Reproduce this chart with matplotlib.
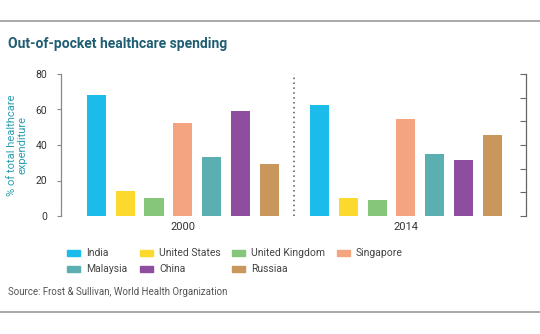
import matplotlib
matplotlib.use("Agg")
import matplotlib.pyplot as plt
from matplotlib.patches import Rectangle
from matplotlib.lines import Line2D
import numpy as np

plt.rcParams['font.family'] = ['Roboto', 'DejaVu Sans']

countries = ["India", "United States", "United Kingdom", "Singapore",
             "Malaysia", "China", "Russiaa"]
colors = ["#1bbbea", "#fcd92c", "#86c67b", "#f4a47f",
          "#5bafb1", "#8e4d9f", "#c9965b"]
years = ["2000", "2014"]
share_2000 = [68, 14, 10, 52.5, 33, 59, 29.5]
share_2014 = [62.5, 10.3, 8.8, 54.5, 35, 31.5, 45.5]

W, H = 540, 334
fig = plt.figure(figsize=(W / 100, H / 100), dpi=100)
ax = fig.add_axes([61 / W, 118 / H, 465 / W, 142 / H])

n = len(countries)
gap = 7.75  # distance between the two year groups, in bar slots
x0 = np.arange(n)
x1 = x0 + gap
ax.bar(x0, share_2000, width=0.66, color=colors)
ax.bar(x1, share_2014, width=0.66, color=colors)

ax.axvline((x0[-1] + x1[0]) / 2, color="#555555", linestyle=(0, (1, 2.2)),
           linewidth=1.1)

ax.set_xlim(-1.23, x1[-1] + 1.17)
ax.set_ylim(0, 80)
ax.set_yticks([0, 20, 40, 60, 80])
ax.set_xticks([x0.mean(), x1.mean()])
ax.set_xticklabels(years)
ax.tick_params(axis="x", length=0, pad=4, labelsize=8, colors="#333333")
ax.tick_params(axis="y", length=3, width=0.8, color="#888888",
               labelsize=7.5, labelcolor="#333333", pad=7)
for s in ["top", "right", "bottom"]:
    ax.spines[s].set_visible(False)
ax.spines["left"].set_color("#888888")
ax.spines["left"].set_linewidth(0.9)

ax.set_ylabel("% of total healthcare\nexpenditure", color="#2a9db3",
              fontsize=8, linespacing=1.0, labelpad=6)

# unlabelled scale on the right
ax2 = ax.twinx()
ax2.set_ylim(0, 80)
ax2.set_yticks(np.linspace(0, 80, 7))
ax2.set_yticklabels([])
ax2.tick_params(axis="y", direction="in", length=4, width=0.8, color="#666666")
for s in ["top", "left", "bottom"]:
    ax2.spines[s].set_visible(False)
ax2.spines["right"].set_color("#666666")
ax2.spines["right"].set_linewidth(0.9)

# legend: two rows, four columns
col_x = [67, 140, 232, 337]
row_y = [253, 269]
for i, (name, c) in enumerate(zip(countries, colors)):
    px, py = col_x[i % 4], row_y[i // 4]
    fig.add_artist(Rectangle((px / W, 1 - (py + 3) / H), 13 / W, 6 / H,
                             color=c, transform=fig.transFigure))
    fig.text((px + 19) / W, 1 - py / H, name, fontsize=7.5, color="#444444",
             va="center")

fig.text(8 / W, 1 - 44 / H, "Out-of-pocket healthcare spending",
         fontsize=10, fontweight="bold", color="#1f5d72", va="center")
fig.text(8 / W, 1 - 292 / H,
         "Source: Frost & Sullivan, World Health Organization",
         fontsize=7, color="#555555", va="center")

fig.add_artist(Line2D([0, 1], [1 - 21 / H, 1 - 21 / H], color="#9a9a9a",
                      linewidth=1.2))
fig.add_artist(Line2D([0, 1], [1 - 312 / H, 1 - 312 / H], color="#9a9a9a",
                      linewidth=1.2))

fig.savefig("out.png", dpi=100)
